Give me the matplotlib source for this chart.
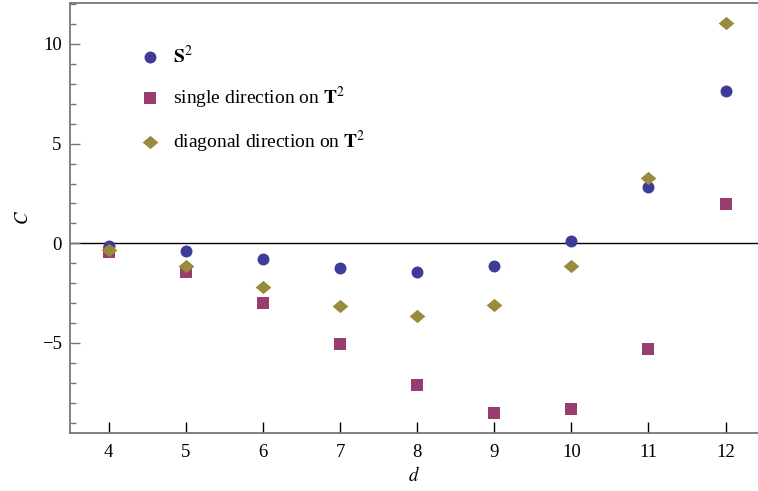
import numpy as np
import matplotlib.pyplot as plt
from matplotlib.path import Path

# 数据
d = [4, 5, 6, 7, 8, 9, 10, 11, 12]
c_sphere = [-0.13, -0.39, -0.79, -1.25, -1.46, -1.15, 0.12, 2.81, 7.64]
c_single = [-0.45, -1.42, -3.01, -5.05, -7.13, -8.53, -8.33, -5.30, 1.97]
c_diag = [-0.34, -1.14, -2.21, -3.16, -3.65, -3.11, -1.14, 3.29, 11.04]

labels = [r'$\mathbf{S}^2$',
          r'single direction on $\mathbf{T}^2$',
          r'diagonal direction on $\mathbf{T}^2$']

plt.rcParams['font.family'] = ['Liberation Serif', 'DejaVu Serif']
plt.rcParams['mathtext.fontset'] = 'stix'
plt.rcParams['font.size'] = 13.5

# 扁一点的菱形
diamond = Path([(-1, 0), (0, 0.85), (1, 0), (0, -0.85), (-1, 0)],
               [Path.MOVETO, Path.LINETO, Path.LINETO, Path.LINETO, Path.CLOSEPOLY])

fig = plt.figure(figsize=(7.58, 4.91), dpi=100)
ax = fig.add_axes([70 / 758, 1 - 432.7 / 491, 1 - 70 / 758, (432.7 - 3.3) / 491])

ax.axhline(0, color='black', lw=1.0, zorder=1)
ax.plot(d, c_sphere, 'o', color='#3d3d99', ms=8.6, mew=0, label=labels[0], zorder=3)
ax.plot(d, c_single, 's', color='#993d71', ms=8.1, mew=0, label=labels[1], zorder=3)
ax.plot(d, c_diag, marker=diamond, ls='none', color='#998b3d', ms=11.3, mew=0,
        label=labels[2], zorder=3)

ax.set_xlim(3.5, 12.42)
ax.set_ylim(-9.5, 12.04)
ax.set_xticks(d)
ax.set_yticks([-5, 0, 5, 10])
ax.set_yticks(np.arange(-9, 13, 1), minor=True)
ax.tick_params(axis='x', direction='in', length=8, width=1, color='black', pad=8)
ax.tick_params(axis='y', which='major', direction='in', length=7, width=1, color='#777777', pad=6)
ax.tick_params(axis='y', which='minor', direction='in', length=4, width=1, color='#777777')
ax.tick_params(axis='x', which='minor', bottom=False)

for s in ['left', 'bottom', 'top']:
    ax.spines[s].set_color('#777777')
    ax.spines[s].set_linewidth(1.3)
ax.spines['right'].set_visible(False)

ax.set_xlabel('$d$', labelpad=4)
ax.set_ylabel('$C$', labelpad=7)

ax.legend(loc='upper left', bbox_to_anchor=(0.0767, 0.943), frameon=False, fontsize=14,
          labelspacing=0.92, handletextpad=0.7, handlelength=1.0, numpoints=1)

fig.savefig('out.png', dpi=100)
